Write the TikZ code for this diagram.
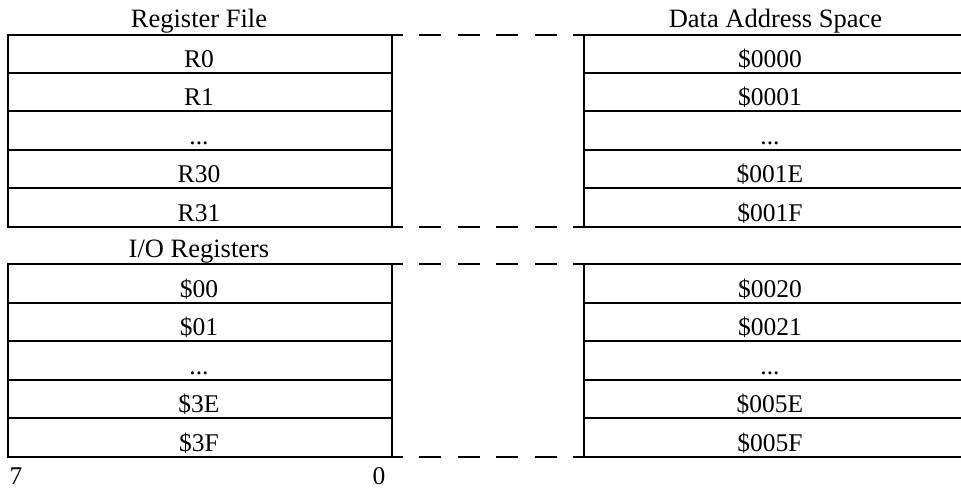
\documentclass[tikz,border=0pt]{standalone}
\usepackage{fontspec}
\setmainfont{Liberation Serif}
\newcommand\rowdots{...}
\begin{document}
\begin{tikzpicture}[x=1bp,y=-1bp,line width=2bp,
  txt/.style={anchor=base,inner sep=0pt,font=\fontsize{25.5bp}{30bp}\selectfont},
  head/.style={txt,font=\fontsize{26.5bp}{31bp}\selectfont},
  link/.style={dash pattern=on 22bp off 16.7bp}]
\useasboundingbox (0,0) rectangle (961,491);

% two blocks: register file / I/O registers, each five rows
\foreach \blk/\top/\step in {A/34.7/38.4, B/264.3/38.48}{
  \pgfmathsetmacro{\bot}{\top+5*\step}
  % left table
  \draw (8,\top) rectangle (392,\bot);
  \draw (392,\top) -- (402.7,\top);
  \draw (392,\bot) -- (402.7,\bot);
  % right table (open on the right)
  \draw (961,\top) -- (584,\top) -- (584,\bot) -- (961,\bot);
  \draw (573,\top) -- (584,\top);
  \draw (573,\bot) -- (584,\bot);
  % dashed mapping lines
  \draw[link] (419,\top) -- (557,\top);
  \draw[link] (419,\bot) -- (557,\bot);
  % row separators
  \foreach \k in {1,2,3,4}{
    \pgfmathsetmacro{\yy}{\top+\k*\step}
    \draw (8,\yy) -- (392,\yy);
    \draw (584,\yy) -- (961,\yy);
  }
}

% headings
\node[head] (hrf) at (199,28) {Register File};
\node[head] (hdas) at (775.5,28) {Data Address Space};
\node[head] (hio) at (199,257.8) {I/O Registers};

% register file rows
\foreach \lab/\adr [count=\i] in {R0/\$0000, R1/\$0001, \rowdots/\rowdots, R30/\$001E, R31/\$001F}{
  \pgfmathsetmacro{\yy}{34.7+\i*38.4-5.5}
  \node[txt] (ra\i) at (199,\yy) {\lab};
  \node[txt] (da\i) at (770,\yy) {\adr};
}

% I/O register rows
\foreach \lab/\adr [count=\i] in {\$00/\$0020, \$01/\$0021, \rowdots/\rowdots, \$3E/\$005E, \$3F/\$005F}{
  \pgfmathsetmacro{\yy}{264.3+\i*38.48-5.5}
  \node[txt] (rb\i) at (199,\yy) {\lab};
  \node[txt] (db\i) at (770,\yy) {\adr};
}

% bit numbers
\node[txt] (b7) at (16,484) {7};
\node[txt] (b0) at (379,484) {0};
\end{tikzpicture}
\end{document}
